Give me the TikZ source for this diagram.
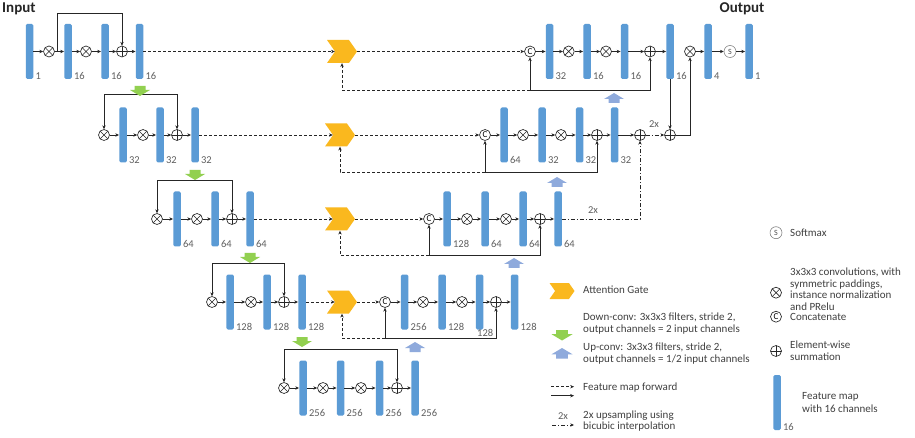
\documentclass[tikz,border=0pt]{standalone}
\usepackage{fontspec}
\setmainfont{Carlito}
\usetikzlibrary{arrows.meta,shapes.symbols,calc}
\definecolor{barblue}{RGB}{91,155,213}
\definecolor{gateyellow}{RGB}{250,184,30}
\definecolor{convgreen}{RGB}{146,208,80}
\definecolor{convblue}{RGB}{143,170,220}
\definecolor{lblgray}{RGB}{95,95,95}
\definecolor{txtgray}{RGB}{64,64,64}
\begin{document}
\begin{tikzpicture}[x=1pt,y=-1pt,
  bar/.style={rectangle, fill=barblue, rounded corners=1.5pt, minimum width=7.5pt, minimum height=55pt, inner sep=0pt},
  op/.style={circle, draw=black!85, line width=0.65pt, minimum size=11pt, inner sep=0pt},
  mul/.style={op, path picture={\draw[line width=0.65pt,black!85] (path picture bounding box.center) +(45:6pt) -- +(225:6pt) +(135:6pt) -- +(315:6pt);}},
  add/.style={op, path picture={\draw[line width=0.65pt,black!85] (path picture bounding box.center) +(0:6pt) -- +(180:6pt) +(90:6pt) -- +(270:6pt);}},
  cat/.style={op, font=\fontsize{9}{9}\selectfont, text=black},
  smx/.style={circle, draw=black!55, line width=0.5pt, minimum size=12pt, inner sep=0pt, font=\fontsize{8}{8}\selectfont, text=black!70},
  gate/.style={signal, signal from=west, signal to=east, signal pointer angle=110, fill=gateyellow, minimum width=30pt, minimum height=23pt, inner sep=0pt, draw=none},
  lgate/.style={gate, minimum width=25pt, minimum height=16pt},
  lbl/.style={font=\fontsize{10.5}{10.5}\selectfont, text=lblgray, inner sep=0pt, anchor=west},
  title/.style={font=\bfseries\fontsize{15}{15}\selectfont, text=black!85, inner sep=0pt},
  legtxt/.style={font=\fontsize{11}{12.5}\selectfont, text=txtgray, anchor=west, align=left, inner sep=0pt},
  ln/.style={draw=black!85, line width=0.75pt},
  arr/.style={ln, -{Stealth[length=3.8pt,width=3.4pt]}},
  biarr/.style={ln, {Stealth[length=3.8pt,width=3.4pt]}-{Stealth[length=3.8pt,width=3.4pt]}},
  darr/.style={arr, dash pattern=on 3pt off 2pt},
  ddarr/.style={arr, dash pattern=on 4pt off 2pt on 1pt off 2pt},
  downconv/.pic={\fill[convgreen] (-5.5,0) -- (5.5,0) -- (5.5,4) -- (10,4) -- (0,10) -- (-10,4) -- (-5.5,4) -- cycle;},
  upconv/.pic={\fill[convblue] (0,0) -- (10,6) -- (5.5,6) -- (5.5,10) -- (-5.5,10) -- (-5.5,6) -- (-10,6) -- cycle;},
]
\useasboundingbox (0,0) rectangle (915,438);
\fill[white] (0,0) rectangle (915,438);

% titles
\node[title, anchor=west] (tin) at (2,9) {Input};
\node[title] (tout) at (742,9) {Output};

% ===== Row 1 =====
\foreach \n/\x in {e1b1/29.5,e1b2/68,e1b3/105,e1b4/139.5,d1b1/549.5,d1b2/587,d1b3/624.5,d1b4/670,d1b5/708,d1b6/749}
  \node[bar] (\n) at (\x,51.5) {};
\foreach \n/\x in {e1x1/49,e1x2/86,d1x1/568.7,d1x2/606,d1x3/690}
  \node[mul] (\n) at (\x,51.5) {};
\foreach \n/\x in {e1p/122,d1p/650}
  \node[add] (\n) at (\x,51.5) {};
\node[cat] (d1c) at (530,51.5) {C};
\node[smx] (d1s) at (730,51.5) {S};
\node[gate] (g1) at (342,51.5) {};

% ===== Row 2 =====
\foreach \n/\x in {e2b1/123,e2b2/160,e2b3/195,d2b1/504,d2b2/542,d2b3/579.5,d2b4/614.5}
  \node[bar] (\n) at (\x,135) {};
\foreach \n/\x in {e2x1/104,e2x2/143,d2x1/523,d2x2/561}
  \node[mul] (\n) at (\x,135) {};
\foreach \n/\x in {e2p/177,d2p/597,m2p/640,r2p/670}
  \node[add] (\n) at (\x,135) {};
\node[cat] (d2c) at (485,135) {C};
\node[gate] (g2) at (340,135) {};

% ===== Row 3 =====
\foreach \n/\x in {e3b1/177,e3b2/215,e3b3/250,d3b1/447,d3b2/485,d3b3/523,d3b4/558}
  \node[bar] (\n) at (\x,219) {};
\foreach \n/\x in {e3x1/157,e3x2/197,d3x1/467,d3x2/506}
  \node[mul] (\n) at (\x,219) {};
\foreach \n/\x in {e3p/232,d3p/540}
  \node[add] (\n) at (\x,219) {};
\node[cat] (d3c) at (429,219) {C};
\node[gate] (g3) at (340,219) {};

% ===== Row 4 =====
\foreach \n/\x in {e4b1/230,e4b2/267,e4b3/302,d4b1/404.5,d4b2/442,d4b3/479.5,d4b4/514.5}
  \node[bar] (\n) at (\x,302) {};
\foreach \n/\x in {e4x1/212,e4x2/251,d4x1/423,d4x2/462}
  \node[mul] (\n) at (\x,302) {};
\foreach \n/\x in {e4p/284,d4p/496}
  \node[add] (\n) at (\x,302) {};
\node[cat] (d4c) at (385,302) {C};
\node[gate] (g4) at (342,302) {};

% ===== Row 5 =====
\foreach \n/\x in {e5b1/303,e5b2/340.5,e5b3/379.5,e5b4/415}
  \node[bar] (\n) at (\x,388) {};
\foreach \n/\x in {e5x1/284,e5x2/323,e5x3/361}
  \node[mul] (\n) at (\x,388) {};
\node[add] (e5p) at (397,388) {};

% ===== bar labels =====
\foreach \n/\t in {e1b1/1,e1b2/16,e1b3/16,e1b4/16,d1b1/32,d1b2/16,d1b3/16,d1b4/16,d1b5/4,d1b6/1,
  e2b1/32,e2b2/32,e2b3/32,d2b1/64,d2b2/32,d2b3/32,d2b4/32,
  e3b1/64,e3b2/64,e3b3/64,d3b1/128,d3b2/64,d3b3/64,d3b4/64,
  e4b1/128,e4b2/128,e4b3/128,d4b1/256,d4b2/128,d4b4/128,
  e5b1/256,e5b2/256,e5b3/256,e5b4/256}
  \node[lbl] (lab-\n) at ($(\n.south east)+(2,-3)$) {\t};
\node[lbl] (lab-d4b3) at (477,333) {128};

% ===== chains =====
\foreach \a/\b in {e1b1/e1x1,e1x1/e1b2,e1b2/e1x2,e1x2/e1b3,e1b3/e1p,e1p/e1b4,
  d1c/d1b1,d1b1/d1x1,d1x1/d1b2,d1b2/d1x2,d1x2/d1b3,d1b3/d1p,d1p/d1b4,d1x3/d1b5,d1b5/d1s,d1s/d1b6,
  e2x1/e2b1,e2b1/e2x2,e2x2/e2b2,e2b2/e2p,e2p/e2b3,
  d2c/d2b1,d2b1/d2x1,d2x1/d2b2,d2b2/d2x2,d2x2/d2b3,d2b3/d2p,d2p/d2b4,d2b4/m2p,
  e3x1/e3b1,e3b1/e3x2,e3x2/e3b2,e3b2/e3p,e3p/e3b3,
  d3c/d3b1,d3b1/d3x1,d3x1/d3b2,d3b2/d3x2,d3x2/d3b3,d3b3/d3p,d3p/d3b4,
  e4x1/e4b1,e4b1/e4x2,e4x2/e4b2,e4b2/e4p,e4p/e4b3,
  d4c/d4b1,d4b1/d4x1,d4x1/d4b2,d4b2/d4x2,d4x2/d4b3,d4b3/d4p,d4p/d4b4,
  e5x1/e5b1,e5b1/e5x2,e5x2/e5b2,e5b2/e5x3,e5x3/e5b3,e5b3/e5p,e5p/e5b4}
  \draw[arr] (\a) -- (\b);

% encoder -> gate -> concat (dashed)
\foreach \a/\b in {e1b4/g1,g1/d1c,e2b3/g2,g2/d2c,e3b3/g3,g3/d3c,e4b3/g4,g4/d4c}
  \draw[darr] (\a) -- (\b);

% encoder residual skips
\coordinate (s1) at (57,51.5);
\draw[arr] (s1) -- ++(0,-38.5) -| (e1p);
\draw[biarr] (e2x1.north) -- ++(0,-34.5) -| (e2p.north);
\draw[biarr] (e3x1.north) -- ++(0,-32.5) -| (e3p.north);
\draw[biarr] (e4x1.north) -- ++(0,-32.5) -| (e4p.north);
\draw[biarr] (e5x1.north) -- ++(0,-32.5) -| (e5p.north);

% decoder skips and gating signals
\foreach \j/\y/\c/\p/\g in {j1/90/d1c/d1p/g1, j2/172/d2c/d2p/g2, j3/255/d3c/d3p/g3, j4/338/d4c/d4p/g4}{
  \path (\c) -- ++(0,0) coordinate (tmp);
  \coordinate (\j) at (tmp |- 0,\y);
  \draw[arr] (\j) -- (\c);
  \draw[arr] (\j) -| (\p);
  \draw[darr] (\j) -| (\g);
}

% deep supervision
\draw[arr] (d1b4) -- (r2p);
\draw[arr] (r2p) -| (d1x3);
\draw[ddarr] (m2p) -- (r2p);
\draw[ddarr] (d3b4) -| (m2p);
\node[lbl, anchor=center] (up2a) at (654,124) {2x};
\node[lbl, anchor=center] (up2b) at (593,210) {2x};

% down-conv / up-conv arrows
\pic at (140,86) {downconv};
\pic at (195,170) {downconv};
\pic at (250,253) {downconv};
\pic at (302,337) {downconv};
\pic at (614,93) {upconv};
\pic at (557,177) {upconv};
\pic at (514,258) {upconv};
\pic at (415,342) {upconv};

% ===== legend (left column) =====
\node[lgate] (lg1) at (562,291) {};
\node[legtxt] (lt1) at (583,290) {Attention Gate};
\pic[scale=1.05] at (562,330) {downconv};
\node[legtxt] (lt2) at (583,323.5) {Down-conv: 3x3x3 filters, stride 2,\\output channels = 2 input channels};
\pic[scale=1.05] at (562,348) {upconv};
\node[legtxt] (lt3) at (583,353.5) {Up-conv: 3x3x3 filters, stride 2,\\output channels = 1/2 input channels};
\coordinate (lfa) at (551,386.7); \coordinate (lfb) at (574,386.7);
\draw[darr] (lfa) -- (lfb);
\coordinate (lsa) at (551,395.7); \coordinate (lsb) at (574,395.7);
\draw[arr] (lsa) -- (lsb);
\node[legtxt] (lt4) at (583,388) {Feature map forward};
\node[lbl, anchor=center] (l2x) at (563,416) {2x};
\coordinate (lda) at (552,425); \coordinate (ldb) at (574,425);
\draw[ddarr] (lda) -- (ldb);
\node[legtxt, font=\fontsize{11}{11.5}\selectfont] (lt5) at (583,421) {2x upsampling using\\bicubic interpolation};

% ===== legend (right column) =====
\node[smx] (lgs) at (776,232.7) {S};
\node[legtxt] (lr1) at (790,232.7) {Softmax};
\node[mul] (lgx) at (776,292.7) {};
\node[legtxt, font=\fontsize{11}{11.5}\selectfont] (lr2) at (790,289) {3x3x3 convolutions, with\\symmetric paddings,\\instance normalization\\and PRelu};
\node[cat] (lgc) at (776,316.7) {C};
\node[legtxt] (lr3) at (790,316.7) {Concatenate};
\node[add] (lgp) at (776,351) {};
\node[legtxt, font=\fontsize{11}{11.7}\selectfont] (lr4) at (790,351) {Element-wise\\summation};
\node[bar] (lgb) at (777,402.5) {};
\node[lbl] (lab-lgb) at ($(lgb.south east)+(2,-3)$) {16};
\node[legtxt, font=\fontsize{11}{13.3}\selectfont] (lr5) at (802,402.7) {Feature map\\with 16 channels};
\end{tikzpicture}
\end{document}
